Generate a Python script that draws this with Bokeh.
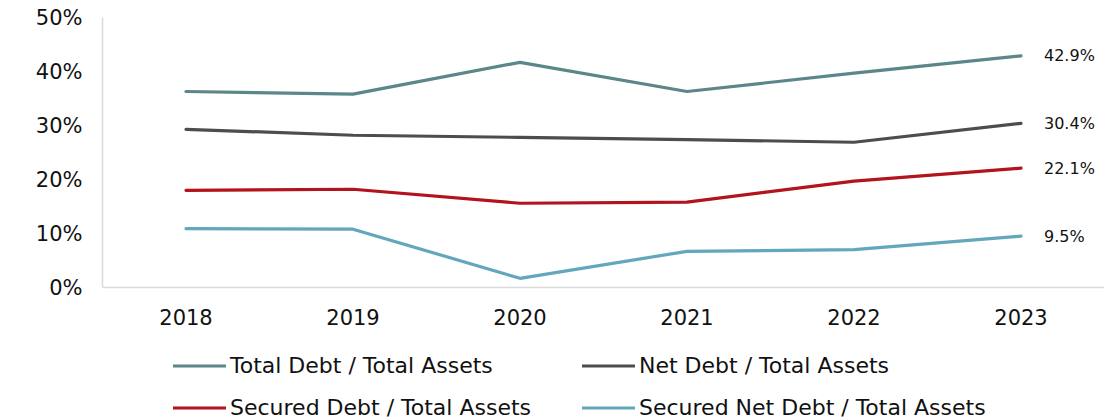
from bokeh.plotting import figure
from bokeh.models import ColumnDataSource, Range1d, FactorRange, Legend, LegendItem, NumeralTickFormatter, FixedTicker
from bokeh.core.properties import value
from bokeh.embed import file_html
from bokeh.resources import INLINE

years = ["2018", "2019", "2020", "2021", "2022", "2023"]
total_debt = [0.363, 0.358, 0.417, 0.363, 0.397, 0.429]
net_debt = [0.293, 0.282, 0.278, 0.274, 0.269, 0.304]
secured_debt = [0.180, 0.182, 0.156, 0.158, 0.197, 0.221]
secured_net_debt = [0.109, 0.108, 0.017, 0.067, 0.070, 0.095]
series_names = ["Total Debt / Total Assets", "Net Debt / Total Assets",
                "Secured Debt / Total Assets", "Secured Net Debt / Total Assets"]
colors = ["#5B868A", "#4D4D4D", "#B3131C", "#62A7BC"]
y_ticks = [0, 0.1, 0.2, 0.3, 0.4, 0.5]

FONT = "DejaVu Sans"

# frame extends below the x axis to host the legend; the x axis is pinned at y=0
p = figure(width=1115, height=419, x_range=FactorRange(*years), y_range=Range1d(-0.2444, 0.5),
           output_backend="svg", toolbar_location=None,
           min_border_left=102, min_border_right=11, min_border_top=17, min_border_bottom=0)
p.outline_line_color = None
p.xgrid.grid_line_color = None
p.ygrid.grid_line_color = None

for ax in (p.xaxis, p.yaxis):
    ax.axis_line_color = "#D9D9D9"
    ax.axis_line_width = 1.5
    ax.major_tick_line_color = None
    ax.minor_tick_line_color = None
    ax.major_tick_out = 0
    ax.major_tick_in = 0
    ax.major_label_text_font = FONT
    ax.major_label_text_font_size = "21px"
    ax.major_label_text_color = "#111111"
p.xaxis.fixed_location = 0
p.xaxis.major_label_standoff = 21
p.yaxis.major_label_standoff = 20
p.yaxis.bounds = (0, 0.5)
p.yaxis.ticker = FixedTicker(ticks=y_ticks)
p.yaxis.formatter = NumeralTickFormatter(format="0%")

src = ColumnDataSource(dict(x=years, total=total_debt, net=net_debt,
                            sec=secured_debt, secnet=secured_net_debt))
renderers = []
for col, c in zip(["total", "net", "sec", "secnet"], colors):
    r = p.line(x="x", y=col, source=src, line_color=c, line_width=3.2, line_cap="round", line_join="round")
    renderers.append(r)

last_vals = [total_debt[-1], net_debt[-1], secured_debt[-1], secured_net_debt[-1]]
lab_src = ColumnDataSource(dict(x=[years[-1]] * 4, y=last_vals,
                                t=[f"{v*100:.1f}%" for v in last_vals]))
p.text(x="x", y="y", text="t", source=lab_src, x_offset=23, text_baseline="middle",
       text_align="left", text_font=value(FONT), text_font_size="16px", text_color="#111111")

def make_legend(items, xloc):
    lg = Legend(items=items, location=(xloc, -1), orientation="vertical")
    lg.padding = 0
    lg.margin = 0
    lg.spacing = 17
    lg.glyph_width = 53
    lg.glyph_height = 25
    lg.label_height = 25
    lg.label_standoff = 4
    lg.label_text_font = FONT
    lg.label_text_font_size = "22px"
    lg.label_text_color = "#111111"
    lg.label_text_baseline = "middle"
    lg.border_line_color = None
    lg.background_fill_alpha = 0
    return lg

leg1 = make_legend([LegendItem(label=series_names[0], renderers=[renderers[0]]),
                    LegendItem(label=series_names[2], renderers=[renderers[2]])], 71)
leg2 = make_legend([LegendItem(label=series_names[1], renderers=[renderers[1]]),
                    LegendItem(label=series_names[3], renderers=[renderers[3]])], 480)
p.add_layout(leg1, "center")
p.add_layout(leg2, "center")

open("out.html", "w").write(file_html(p, INLINE))
